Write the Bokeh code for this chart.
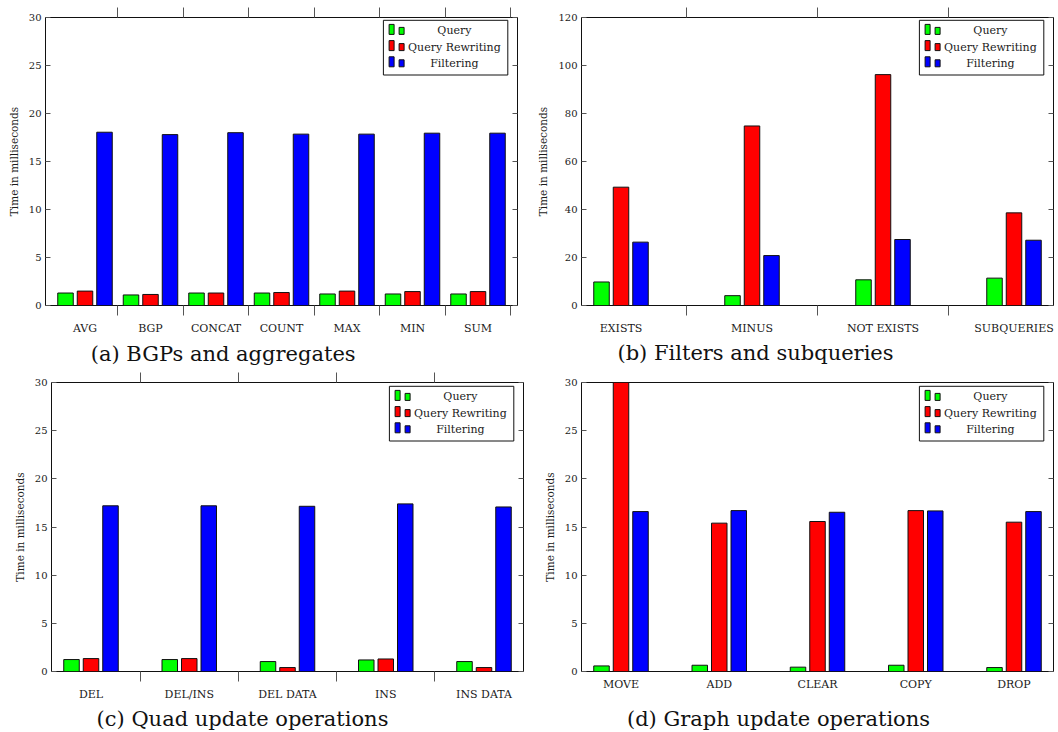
from bokeh.plotting import figure
from bokeh.layouts import row, column
from bokeh.models import FixedTicker, Range1d, LinearAxis, BoxAnnotation, Label, ColumnDataSource
from bokeh.embed import file_html
from bokeh.resources import INLINE

# ---------------- data ----------------
SERIES = ["Query", "Query Rewriting", "Filtering"]
COLORS = ["#00ff00", "#ff0000", "#0000ff"]

a_cats = ["AVG", "BGP", "CONCAT", "COUNT", "MAX", "MIN", "SUM"]
a_query = [1.3, 1.1, 1.3, 1.3, 1.2, 1.2, 1.2]
a_rewriting = [1.5, 1.15, 1.3, 1.35, 1.5, 1.45, 1.45]
a_filtering = [18.05, 17.8, 18.0, 17.85, 17.85, 17.95, 17.95]

b_cats = ["EXISTS", "MINUS", "NOT EXISTS", "SUBQUERIES"]
b_query = [9.8, 4.1, 10.7, 11.4]
b_rewriting = [49.3, 74.8, 96.2, 38.6]
b_filtering = [26.4, 20.8, 27.5, 27.2]

c_cats = ["DEL", "DEL/INS", "DEL DATA", "INS", "INS DATA"]
c_query = [1.24, 1.24, 1.03, 1.2, 1.03]
c_rewriting = [1.34, 1.34, 0.41, 1.3, 0.41]
c_filtering = [17.2, 17.2, 17.15, 17.4, 17.08]

d_cats = ["MOVE", "ADD", "CLEAR", "COPY", "DROP"]
d_query = [0.58, 0.65, 0.45, 0.65, 0.41]
d_rewriting = [32.0, 15.4, 15.57, 16.7, 15.5]
d_filtering = [16.6, 16.7, 16.53, 16.67, 16.6]

CAPTIONS = ["(a)  BGPs and aggregates", "(b) Filters and subqueries",
            "(c) Quad update operations", "(d) Graph update operations"]

# ---------------- style ----------------
FONT = "DejaVu Serif"
TXT = "#1a1a1a"
TICK = "#555555"
FH = 291
PAD_PX = 39.5
BAR_PX = 15.5
OFF_PX = 19.5


def panel(cats, series, ymax, ystep, width, borders, boundary_ticks=True):
    n = len(cats)
    bl, bt, br, bb = borders
    fw = width - bl - br
    s = (fw - 2 * PAD_PX) / (n - 1)
    pad = PAD_PX / s
    x0, x1 = -pad, n - 1 + pad
    p = figure(width=width, height=bt + FH + bb,
               x_range=Range1d(x0, x1), y_range=Range1d(0, ymax),
               x_axis_type=None, y_axis_type=None, title=None,
               output_backend="svg", toolbar_location=None,
               min_border_left=bl, min_border_top=bt,
               min_border_right=br, min_border_bottom=bb)
    p.outline_line_color = "#111111"
    p.outline_line_width = 1
    p.background_fill_color = "white"
    p.border_fill_color = "white"

    centers = list(range(n))
    bounds = [i + 0.5 for i in range(n) if i + 0.5 < x1] if boundary_ticks else []

    xb = LinearAxis(ticker=FixedTicker(ticks=centers, minor_ticks=bounds),
                    major_label_overrides={i: c for i, c in enumerate(cats)})
    xb.major_tick_out = 0
    xb.major_tick_in = 0
    xb.minor_tick_out = 10
    xb.minor_tick_in = 0
    xb.minor_tick_line_color = TICK
    xb.axis_line_color = None
    xb.major_label_standoff = 6
    xb.major_label_text_font = FONT
    xb.major_label_text_font_size = "11px"
    xb.major_label_text_color = TXT
    p.add_layout(xb, "below")

    xa = LinearAxis(ticker=FixedTicker(ticks=[], minor_ticks=bounds))
    xa.major_tick_out = 0
    xa.major_tick_in = 0
    xa.minor_tick_out = 10
    xa.minor_tick_in = 0
    xa.minor_tick_line_color = TICK
    xa.axis_line_color = None
    xa.major_label_standoff = 0
    p.add_layout(xa, "above")

    yticks = list(range(0, ymax + 1, ystep))
    yl = LinearAxis(ticker=FixedTicker(ticks=yticks), axis_label="Time in milliseconds")
    yl.major_tick_in = 5
    yl.major_tick_out = 0
    yl.major_tick_line_color = TICK
    yl.minor_tick_in = 0
    yl.minor_tick_out = 0
    yl.axis_line_color = None
    yl.major_label_standoff = 4
    yl.major_label_text_font = FONT
    yl.major_label_text_font_size = "10px"
    yl.major_label_text_color = TXT
    yl.axis_label_text_font = FONT
    yl.axis_label_text_font_size = "10.5px"
    yl.axis_label_text_font_style = "normal"
    yl.axis_label_text_color = TXT
    yl.axis_label_standoff = 6
    p.add_layout(yl, "left")

    yr = LinearAxis(ticker=FixedTicker(ticks=[], minor_ticks=yticks))
    yr.major_tick_in = 0
    yr.major_tick_out = 0
    yr.minor_tick_in = 5
    yr.minor_tick_out = 0
    yr.minor_tick_line_color = TICK
    yr.axis_line_color = None
    yr.major_label_standoff = 0
    p.add_layout(yr, "right")

    for k, (vals, col) in enumerate(zip(series, COLORS)):
        xs = [i + (k - 1) * OFF_PX / s for i in range(n)]
        src = ColumnDataSource(dict(x=xs, top=vals))
        p.vbar(x="x", top="top", bottom=0, width=BAR_PX / s, source=src,
               fill_color=col, line_color="#111111", line_width=1)

    # legend box (pixel offsets from the frame's top-right corner)
    lb_l = fw - 9.7 - 124.4
    lb_r = fw - 9.7
    lb_t = FH - 5.8
    lb_b = lb_t - 54.7
    p.add_layout(BoxAnnotation(left=lb_l, right=lb_r, top=lb_t, bottom=lb_b,
                               left_units="screen", right_units="screen",
                               top_units="screen", bottom_units="screen",
                               fill_color="white", fill_alpha=1,
                               line_color="#111111", line_alpha=1, line_width=1,
                               line_dash="solid", level="overlay"))
    for k, (name, col) in enumerate(zip(SERIES, COLORS)):
        cy = lb_t - (10.6 + 16.2 * k)
        base = cy - 3.5
        for dx, h in [(5.7, 10), (15.7, 7)]:
            p.add_layout(BoxAnnotation(left=lb_l + dx, right=lb_l + dx + 5,
                                       bottom=base, top=base + h,
                                       left_units="screen", right_units="screen",
                                       top_units="screen", bottom_units="screen",
                                       fill_color=col, fill_alpha=1,
                                       line_color="#111111", line_alpha=1, line_width=1,
                                       line_dash="solid", level="overlay"))
        p.add_layout(Label(x=lb_l + 71, y=cy, x_units="screen", y_units="screen",
                           text=name, text_align="center", text_baseline="middle",
                           text_font=FONT, text_font_size="11px", text_color=TXT,
                           level="overlay"))
    return p


def caption(text, width, height, cx, bottom):
    c = figure(width=width, height=height, x_axis_type=None, y_axis_type=None, title=None,
               output_backend="svg", toolbar_location=None,
               min_border_left=0, min_border_right=0, min_border_top=0, min_border_bottom=0)
    c.outline_line_color = None
    c.grid.visible = False
    c.add_layout(Label(x=cx, y=bottom, x_units="screen", y_units="screen",
                       text=text, text_align="center", text_baseline="bottom",
                       text_font=FONT, text_font_size="21px", text_color="#111111"))
    return c


pa = panel(a_cats, [a_query, a_rewriting, a_filtering], 30, 5, 530, (45, 17, 13, 32))
pb = panel(b_cats, [b_query, b_rewriting, b_filtering], 120, 20, 527, (51, 14, 4, 35))
pc = panel(c_cats, [c_query, c_rewriting, c_filtering], 30, 5, 530, (51, 14, 7, 35))
pd = panel(d_cats, [d_query, d_rewriting, d_filtering], 30, 5, 527, (51, 16, 4, 33),
           boundary_ticks=False)

ca = caption(CAPTIONS[0], 530, 26, 226, 1.0)
cb = caption(CAPTIONS[1], 527, 26, 225, 2.0)
cc = caption(CAPTIONS[2], 530, 25, 242, 0.5)
cd = caption(CAPTIONS[3], 527, 25, 248, 0.5)

layout = column(row(pa, pb, spacing=0), row(ca, cb, spacing=0),
                row(pc, pd, spacing=0), row(cc, cd, spacing=0), spacing=0)

open("out.html", "w").write(file_html(layout, INLINE))
